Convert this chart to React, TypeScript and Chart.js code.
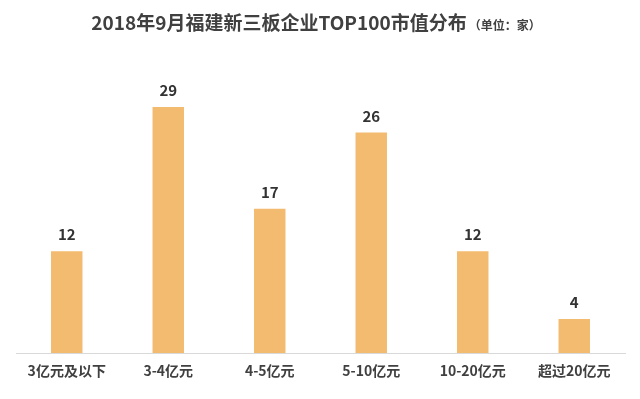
import React, { useEffect, useRef } from "react";
import { Chart, registerables } from "chart.js";

Chart.register(...registerables);

const categories = ["3亿元及以下", "3-4亿元", "4-5亿元", "5-10亿元", "10-20亿元", "超过20亿元"];
const counts = [12, 29, 17, 26, 12, 4];
const titleMain = "2018年9月福建新三板企业TOP100市值分布";
const titleUnit = "（单位：家）";

const FONT = "'Noto Sans CJK SC', 'Noto Sans', sans-serif";

const labelsPlugin = {
  id: "customLabels",
  afterDatasetsDraw(chart: any) {
    const ctx = chart.ctx;
    const meta = chart.getDatasetMeta(0);
    ctx.save();
    ctx.fillStyle = "#333333";
    ctx.font = `bold 15px ${FONT}`;
    ctx.textAlign = "center";
    ctx.textBaseline = "bottom";
    meta.data.forEach((bar: any, i: number) => {
      ctx.fillText(String(counts[i]), bar.x, bar.y - 9);
    });
    // title
    ctx.font = `bold 19px ${FONT}`;
    const w1 = ctx.measureText(titleMain).width;
    ctx.font = `bold 12px ${FONT}`;
    const w2 = ctx.measureText(titleUnit).width;
    const start = 315 - (w1 + w2) / 2;
    ctx.textAlign = "left";
    ctx.textBaseline = "alphabetic";
    ctx.fillStyle = "#404040";
    ctx.font = `bold 19px ${FONT}`;
    ctx.fillText(titleMain, start, 30);
    ctx.font = `bold 12px ${FONT}`;
    ctx.fillText(titleUnit, start + w1 + 2, 30);
    ctx.restore();
  },
};

export default function App() {
  const ref = useRef<HTMLCanvasElement>(null);
  useEffect(() => {
    const chart = new Chart(ref.current!, {
      type: "bar",
      data: {
        labels: categories,
        datasets: [
          {
            data: counts,
            backgroundColor: "#F3BB6F",
            barPercentage: 0.31,
            categoryPercentage: 1,
          },
        ],
      },
      options: {
        animation: false,
        responsive: true,
        maintainAspectRatio: false,
        layout: { padding: { top: 45, left: 16, right: 15, bottom: 0 } },
        plugins: { legend: { display: false }, tooltip: { enabled: false }, title: { display: false } },
        scales: {
          x: {
            grid: { display: false, drawTicks: false },
            border: { display: true, color: "#D9D9D9", width: 1 },
            ticks: { color: "#404040", font: { family: FONT, size: 14, weight: "bold" }, padding: 9 },
            afterFit: (s: any) => {
              s.height = 46;
            },
          },
          y: { display: false, min: 0, max: 36.3 },
        },
      },
      plugins: [labelsPlugin],
    });
    return () => chart.destroy();
  }, []);
  return (
    <div style={{ position: "fixed", left: 0, top: 0, width: 640, height: 399, background: "#fff" }}>
      <canvas ref={ref} />
    </div>
  );
}
